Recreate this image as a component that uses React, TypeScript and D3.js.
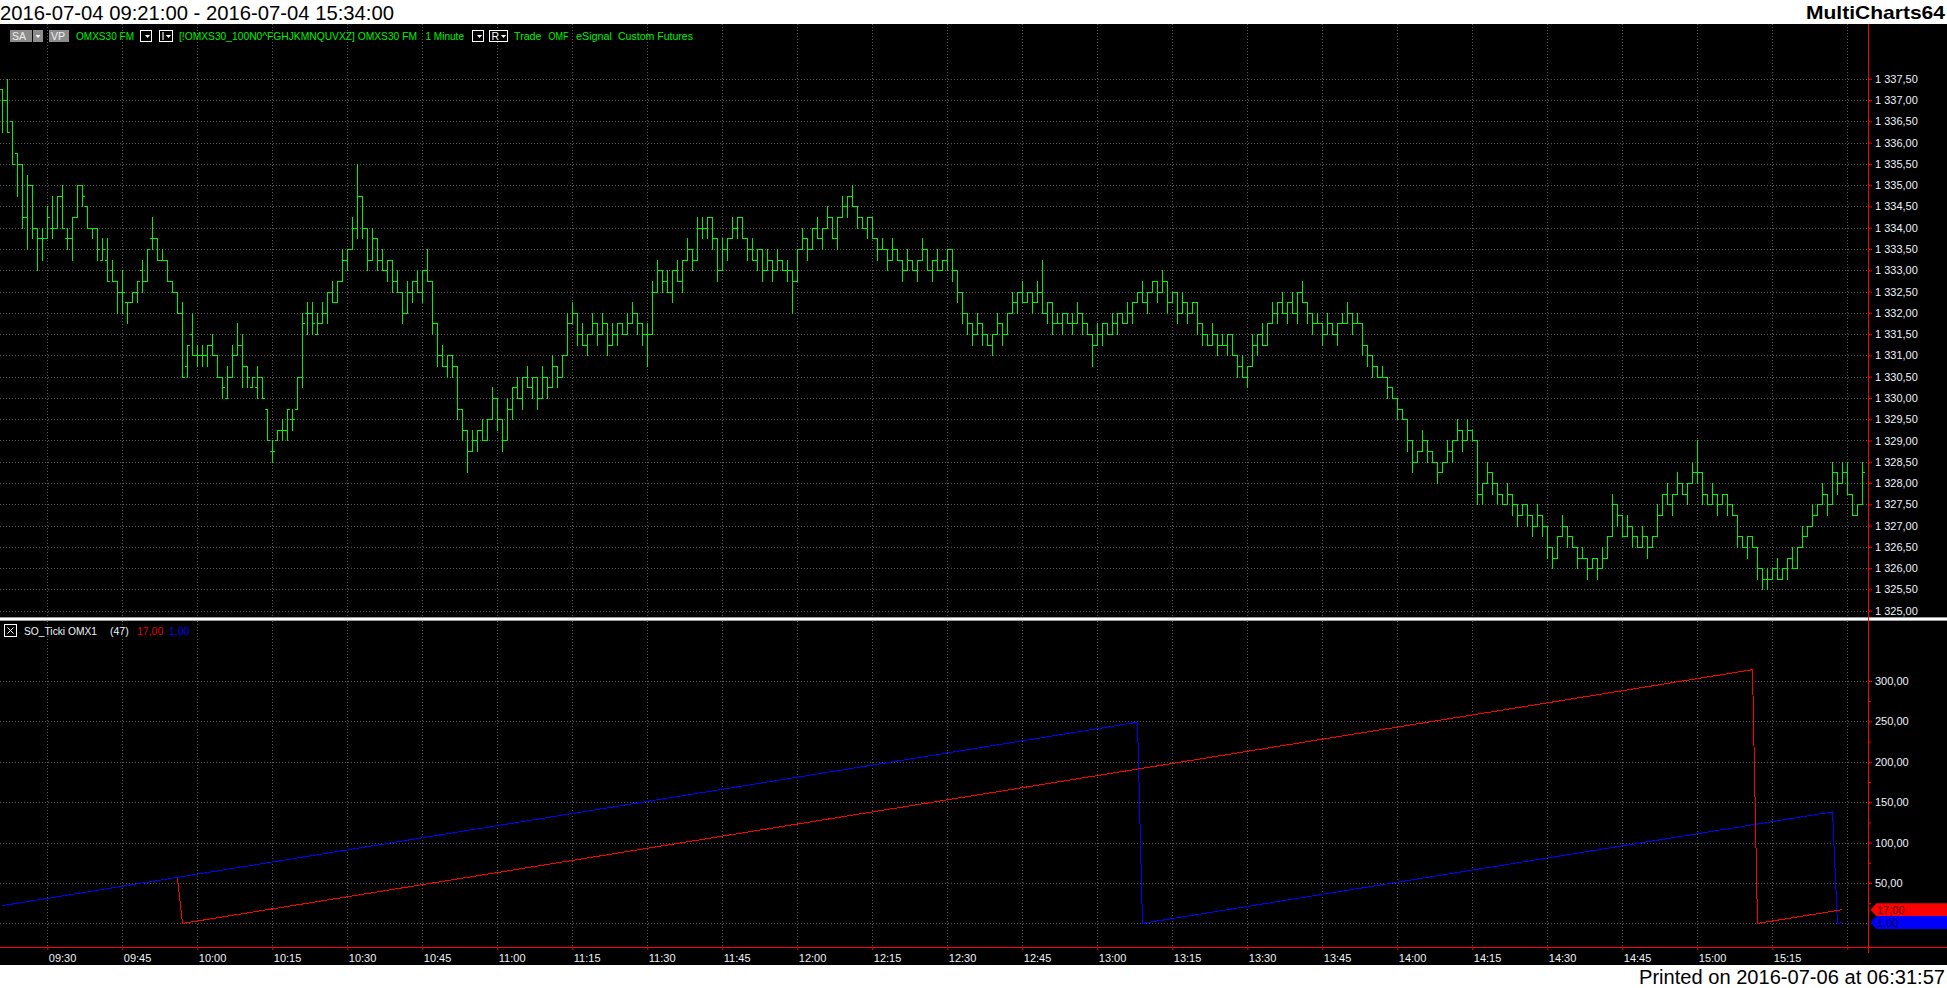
import React, { useRef, useEffect } from 'react';
import * as d3 from 'd3';

const WIDTH = 1947;
const HEIGHT = 988;

// first 1-minute bar of the session
const sessionStart = '09:21';

// OMXS30 FM, 1 minute bars
const barOpen = [
  1337.25, 1337, 1336.5, 1335.75, 1335.5, 1334.25, 1335, 1334, 1333.75, 1333.75,
  1334, 1334, 1334.75, 1333.75, 1333.75, 1334.25, 1335, 1334.5, 1334, 1334,
  1333.25, 1333.25, 1333, 1332.75, 1332.5, 1332.25, 1332.25, 1332.5, 1333, 1332.75,
  1333.75, 1333.75, 1333.25, 1333.25, 1332.75, 1332.5, 1332, 1330.75, 1331.5, 1331,
  1331, 1331, 1331.25, 1331, 1330.5, 1330, 1330.5, 1331, 1331.25, 1330.75,
  1330.25, 1330.25, 1330.5, 1329.75, 1328.75, 1329, 1329.25, 1329.25, 1329.5, 1329.75,
  1330.5, 1332, 1332, 1331.5, 1331.75, 1332, 1332.5, 1332.25, 1332.75, 1333.25,
  1333.5, 1334, 1334.75, 1334, 1333.25, 1333.75, 1333.25, 1333, 1333.25, 1332.75,
  1332.5, 1332, 1332.5, 1332.75, 1332.5, 1333, 1332.75, 1331.75, 1331, 1330.75,
  1331, 1330.75, 1329.75, 1329.25, 1328.75, 1329, 1329.25, 1329, 1329.5, 1330,
  1329.5, 1329, 1329.75, 1330.25, 1330, 1330.5, 1330.25, 1330.5, 1330, 1330.5,
  1330.25, 1330.75, 1330.5, 1331, 1331.75, 1332, 1331.5, 1331.25, 1331.5, 1331.75,
  1331.5, 1331.75, 1331.25, 1331.5, 1331.75, 1331.5, 1331.75, 1332, 1331.75, 1331.5,
  1331.5, 1332.5, 1333, 1332.75, 1332.5, 1333, 1332.75, 1333.25, 1333.5, 1333.25,
  1334, 1334, 1334.25, 1333.75, 1333, 1333.5, 1333.75, 1334, 1334.25, 1333.75,
  1333.5, 1333.25, 1333.5, 1333, 1333.25, 1333, 1333.25, 1333, 1333, 1332.75,
  1333.5, 1333.75, 1333.5, 1334, 1333.75, 1334, 1334.25, 1333.75, 1334.25, 1334.5,
  1334.75, 1334.5, 1334.25, 1334, 1334.25, 1333.75, 1333.5, 1333.5, 1333.25, 1333.5,
  1333.25, 1333, 1333.25, 1333, 1333.25, 1333.5, 1333, 1333.25, 1333, 1333.25,
  1333.5, 1333, 1332.5, 1332, 1331.75, 1331.5, 1331.75, 1331.5, 1331.25, 1331.5,
  1331.75, 1331.5, 1332, 1332.25, 1332.5, 1332.25, 1332.5, 1332.25, 1332.5, 1332,
  1332.25, 1331.75, 1331.75, 1332, 1331.75, 1331.75, 1332, 1331.75, 1331.5, 1331.25,
  1331.5, 1331.75, 1331.5, 1331.75, 1332, 1331.75, 1332, 1332.25, 1332.5, 1332.25,
  1332.5, 1332.75, 1332.5, 1332.75, 1332.25, 1332.5, 1332, 1332.25, 1332, 1332.25,
  1331.75, 1331.5, 1331.25, 1331.5, 1331.25, 1331.25, 1331.5, 1331, 1330.75, 1330.5,
  1330.75, 1331.25, 1331.5, 1331.25, 1331.75, 1332, 1332.25, 1332, 1332.25, 1332,
  1332.5, 1332.25, 1332, 1331.75, 1331.75, 1331.5, 1331.75, 1331.5, 1331.75, 1331.75,
  1332, 1331.75, 1331.75, 1331.25, 1331, 1330.75, 1330.5, 1330.5, 1330.25, 1330,
  1329.75, 1329.5, 1329, 1328.5, 1328.75, 1329, 1328.75, 1328.5, 1328.25, 1328.5,
  1328.75, 1329, 1329.25, 1329, 1329.25, 1329, 1327.75, 1328, 1328.25, 1328,
  1327.75, 1327.5, 1327.75, 1327.5, 1327.25, 1327.5, 1327.25, 1327, 1327.25, 1327,
  1326.5, 1326.25, 1326.75, 1327, 1326.75, 1326.5, 1326.25, 1326.25, 1326, 1326.25,
  1326, 1326.25, 1326.75, 1327.5, 1327.25, 1326.75, 1327, 1326.75, 1326.5, 1326.75,
  1326.5, 1326.75, 1327.25, 1327.75, 1327.5, 1327.75, 1328, 1327.75, 1328, 1328.25,
  1328.25, 1327.75, 1327.5, 1327.75, 1327.5, 1327.75, 1327.5, 1327.25, 1326.75, 1326.5,
  1326.75, 1326.5, 1326, 1325.75, 1325.75, 1326, 1325.75, 1326, 1326.25, 1326,
  1326.5, 1326.75, 1327, 1327.25, 1327.5, 1327.75, 1327.5, 1328.25, 1328, 1328.25,
  1327.75, 1327.25, 1327.5,
];
const barHigh = [
  1337.25, 1337.5, 1336.5, 1335.75, 1335.5, 1335.25, 1335, 1334, 1334, 1334.5,
  1334.75, 1334.75, 1335, 1334, 1334.25, 1335, 1335, 1334.5, 1334, 1334,
  1333.75, 1333.75, 1333.25, 1332.75, 1333, 1332.25, 1332.5, 1332.75, 1333.25, 1333.5,
  1334.25, 1333.75, 1333.5, 1333.25, 1332.75, 1332.5, 1332.25, 1331.25, 1332, 1331.25,
  1331.25, 1331.25, 1331.5, 1331, 1330.5, 1330.75, 1331.25, 1331.75, 1331.5, 1330.75,
  1330.5, 1330.75, 1330.5, 1329.75, 1329, 1329.25, 1329.5, 1329.75, 1329.75, 1330.5,
  1332, 1332.25, 1332.25, 1332, 1332.25, 1332.5, 1332.75, 1332.75, 1333.5, 1333.5,
  1334.25, 1335.5, 1334.75, 1334, 1334, 1333.75, 1333.5, 1333.25, 1333.25, 1333,
  1332.5, 1332.75, 1332.75, 1333, 1333, 1333.5, 1332.75, 1331.75, 1331.25, 1331,
  1331, 1330.75, 1329.75, 1329.25, 1329.25, 1329.25, 1329.5, 1329.5, 1330.25, 1330,
  1329.5, 1330, 1330.25, 1330.5, 1330.5, 1330.75, 1330.5, 1330.5, 1330.75, 1330.5,
  1331, 1330.75, 1331, 1332, 1332.25, 1332, 1331.75, 1331.5, 1332, 1331.75,
  1332, 1331.75, 1331.75, 1331.75, 1331.75, 1332, 1332.25, 1332, 1331.75, 1331.75,
  1332.75, 1333.25, 1333, 1333, 1333, 1333.25, 1333.25, 1333.75, 1333.5, 1334.25,
  1334.25, 1334.25, 1334.25, 1333.75, 1333.75, 1333.75, 1334.25, 1334.25, 1334.25, 1333.75,
  1333.75, 1333.5, 1333.5, 1333.5, 1333.25, 1333.5, 1333.25, 1333.25, 1333, 1333.5,
  1334, 1333.75, 1334, 1334.25, 1334, 1334.5, 1334.25, 1334.25, 1334.75, 1334.75,
  1335, 1334.5, 1334.25, 1334.25, 1334.25, 1333.75, 1333.75, 1333.5, 1333.75, 1333.5,
  1333.25, 1333.5, 1333.25, 1333.25, 1333.75, 1333.5, 1333.25, 1333.5, 1333.25, 1333.5,
  1333.5, 1333, 1332.5, 1332, 1331.75, 1332, 1331.75, 1331.5, 1331.5, 1332,
  1331.75, 1332, 1332.5, 1332.5, 1332.75, 1332.5, 1332.5, 1332.75, 1333.25, 1332.25,
  1332.25, 1332, 1332, 1332, 1332, 1332.25, 1332, 1331.75, 1331.5, 1331.75,
  1331.75, 1331.75, 1332, 1332, 1332, 1332.25, 1332.25, 1332.5, 1332.75, 1332.5,
  1332.75, 1332.75, 1333, 1332.75, 1332.5, 1332.5, 1332.5, 1332.25, 1332.25, 1332.25,
  1331.75, 1331.5, 1331.75, 1331.5, 1331.5, 1331.5, 1331.5, 1331, 1331, 1330.75,
  1331.5, 1331.5, 1331.75, 1331.75, 1332.25, 1332.25, 1332.5, 1332.25, 1332.5, 1332.5,
  1332.75, 1332.25, 1332, 1332, 1331.75, 1332, 1331.75, 1331.75, 1332, 1332.25,
  1332, 1332, 1331.75, 1331.25, 1331, 1330.75, 1330.75, 1330.5, 1330.25, 1330,
  1329.75, 1329.5, 1329, 1328.75, 1329.25, 1329, 1328.75, 1328.5, 1328.5, 1329,
  1329, 1329.5, 1329.25, 1329.5, 1329.25, 1329, 1328, 1328.5, 1328.25, 1328,
  1327.75, 1328, 1327.75, 1327.5, 1327.5, 1327.5, 1327.25, 1327.5, 1327.25, 1327,
  1326.5, 1326.75, 1327.25, 1327, 1326.75, 1326.5, 1326.5, 1326.25, 1326.25, 1326.25,
  1326.5, 1326.75, 1327.75, 1327.5, 1327.25, 1327.25, 1327, 1326.75, 1327, 1326.75,
  1326.75, 1327.5, 1327.75, 1328, 1327.75, 1328.25, 1328, 1328, 1328.5, 1329,
  1328.25, 1327.75, 1328, 1327.75, 1327.75, 1327.75, 1327.5, 1327.25, 1326.75, 1326.75,
  1326.75, 1326.5, 1326, 1326, 1326, 1326.25, 1326, 1326.25, 1326.5, 1326.5,
  1327, 1327, 1327.5, 1327.5, 1328, 1327.75, 1328.5, 1328.25, 1328.5, 1328.5,
  1327.75, 1327.5, 1328.5,
];
const barLow = [
  1336.25, 1336.25, 1335.5, 1334.75, 1334, 1333.5, 1333.75, 1333, 1333.25, 1333.75,
  1333.75, 1334, 1334, 1333.5, 1333.25, 1334.25, 1334.5, 1334, 1333.75, 1333.25,
  1333.25, 1332.75, 1332.75, 1332, 1332, 1331.75, 1332.25, 1332.25, 1332.5, 1332.75,
  1333.5, 1333.25, 1333.25, 1332.75, 1332.5, 1332, 1330.5, 1330.5, 1331, 1330.75,
  1330.75, 1330.75, 1331, 1330.5, 1330, 1330, 1330.5, 1331, 1330.25, 1330.25,
  1330.25, 1330, 1330, 1329, 1328.5, 1329, 1329, 1329, 1329.25, 1329.75,
  1330.25, 1331.5, 1331.5, 1331.5, 1331.75, 1331.75, 1332.25, 1332.25, 1332.75, 1333,
  1333.5, 1333.75, 1333.75, 1333, 1333.25, 1333, 1333, 1332.75, 1332.5, 1332.5,
  1331.75, 1332, 1332.25, 1332.5, 1332.25, 1332.75, 1331.5, 1330.75, 1330.75, 1330.5,
  1330.5, 1329.5, 1329, 1328.25, 1328.75, 1328.75, 1329, 1329, 1329.5, 1329.25,
  1328.75, 1329, 1329.5, 1330, 1329.75, 1330.25, 1330, 1329.75, 1330, 1330,
  1330.25, 1330.25, 1330.5, 1331, 1331.75, 1331.25, 1331.25, 1331, 1331.5, 1331.25,
  1331.5, 1331, 1331.25, 1331.25, 1331.5, 1331.5, 1331.75, 1331.5, 1331.25, 1330.75,
  1331.5, 1332.5, 1332.5, 1332.5, 1332.25, 1332.75, 1332.5, 1333.25, 1333, 1333.25,
  1333.75, 1333.75, 1333.5, 1332.75, 1333, 1333.25, 1333.75, 1333.75, 1333.75, 1333.25,
  1333.25, 1333, 1332.75, 1333, 1332.75, 1333, 1333, 1332.75, 1332, 1332.75,
  1333.5, 1333.25, 1333.5, 1333.75, 1333.5, 1334, 1333.75, 1333.5, 1334.25, 1334.25,
  1334.5, 1334, 1334, 1333.75, 1333.75, 1333.25, 1333.5, 1333, 1333.25, 1333.25,
  1332.75, 1333, 1333, 1332.75, 1333.25, 1333, 1332.75, 1333, 1333, 1333,
  1332.75, 1332.25, 1331.75, 1331.5, 1331.25, 1331.5, 1331.25, 1331.25, 1331, 1331.5,
  1331.25, 1331.5, 1332, 1332, 1332.25, 1332.25, 1332, 1332.25, 1332, 1331.75,
  1331.5, 1331.75, 1331.5, 1331.75, 1331.5, 1331.75, 1331.5, 1331.5, 1330.75, 1331.25,
  1331.25, 1331.5, 1331.5, 1331.5, 1331.75, 1331.75, 1331.75, 1332.25, 1332.25, 1332,
  1332.5, 1332.25, 1332.5, 1332, 1332.25, 1331.75, 1332, 1331.75, 1332, 1331.5,
  1331.25, 1331.25, 1331.25, 1331, 1331.25, 1331, 1331, 1330.5, 1330.5, 1330.25,
  1330.75, 1331, 1331.25, 1331.25, 1331.75, 1331.75, 1332, 1331.75, 1332, 1331.75,
  1332.25, 1331.75, 1331.5, 1331.75, 1331.25, 1331.5, 1331.5, 1331.25, 1331.75, 1331.75,
  1331.5, 1331.75, 1331, 1330.75, 1330.5, 1330.5, 1330.5, 1330, 1330, 1329.5,
  1329.5, 1328.75, 1328.25, 1328.5, 1328.75, 1328.5, 1328.5, 1328, 1328.25, 1328.5,
  1328.5, 1329, 1328.75, 1329, 1329, 1327.5, 1327.5, 1328, 1327.75, 1327.5,
  1327.5, 1327.5, 1327.25, 1327, 1327.25, 1327, 1326.75, 1327, 1326.75, 1326.25,
  1326, 1326.25, 1326.75, 1326.5, 1326.5, 1326, 1326.25, 1325.75, 1326, 1325.75,
  1326, 1326.25, 1326.75, 1327, 1326.75, 1326.75, 1326.5, 1326.5, 1326.5, 1326.25,
  1326.5, 1326.75, 1327.25, 1327.5, 1327.25, 1327.75, 1327.75, 1327.5, 1328, 1328,
  1327.5, 1327.5, 1327.5, 1327.25, 1327.5, 1327.25, 1327.25, 1326.5, 1326.5, 1326.25,
  1326.5, 1325.75, 1325.5, 1325.5, 1325.75, 1325.75, 1325.75, 1325.75, 1326, 1326,
  1326.5, 1326.75, 1327, 1327.25, 1327.5, 1327.25, 1327.5, 1327.75, 1328, 1327.75,
  1327.25, 1327.25, 1327.5,
];
const barClose = [
  1337, 1336.25, 1335.5, 1335.5, 1334.25, 1335, 1334, 1333.75, 1333.75, 1334.25,
  1334, 1334.75, 1334, 1333.75, 1334.25, 1335, 1334.75, 1334, 1334, 1333.5,
  1333.5, 1332.75, 1332.75, 1332.5, 1332.5, 1332.25, 1332.5, 1332.75, 1332.75, 1333.5,
  1333.75, 1333.25, 1333.25, 1332.75, 1332.5, 1332, 1330.5, 1331.25, 1331, 1331,
  1331, 1331.25, 1331, 1330.5, 1330.25, 1330.5, 1331, 1331.25, 1330.75, 1330.5,
  1330.5, 1330.5, 1330, 1329, 1328.75, 1329.25, 1329.25, 1329.75, 1329.5, 1330.5,
  1331.75, 1332, 1331.75, 1331.75, 1332, 1332.5, 1332.25, 1332.75, 1333.25, 1333.5,
  1334, 1334.75, 1334, 1333.25, 1333.75, 1333.25, 1333, 1333.25, 1332.75, 1332.5,
  1332, 1332.5, 1332.75, 1332.5, 1333, 1332.75, 1331.75, 1331, 1330.75, 1331,
  1330.75, 1329.75, 1329.25, 1328.75, 1329, 1329.25, 1329, 1329.5, 1330, 1329.5,
  1329, 1329.75, 1330.25, 1330, 1330.5, 1330.25, 1330.5, 1330, 1330.5, 1330.25,
  1330.75, 1330.5, 1331, 1331.75, 1332, 1331.5, 1331.25, 1331.5, 1331.75, 1331.5,
  1331.75, 1331.25, 1331.5, 1331.75, 1331.5, 1331.75, 1332, 1331.75, 1331.5, 1331.5,
  1332.5, 1333, 1332.75, 1332.5, 1333, 1332.75, 1333.25, 1333.5, 1333.25, 1334,
  1334, 1334.25, 1333.75, 1333, 1333.5, 1333.75, 1334, 1334.25, 1333.75, 1333.5,
  1333.25, 1333.5, 1333, 1333.25, 1333, 1333.25, 1333, 1333, 1332.75, 1333.5,
  1333.75, 1333.5, 1334, 1333.75, 1334, 1334.25, 1333.75, 1334.25, 1334.5, 1334.75,
  1334.5, 1334.25, 1334, 1334.25, 1333.75, 1333.5, 1333.5, 1333.25, 1333.5, 1333.25,
  1333, 1333.25, 1333, 1333.25, 1333.5, 1333, 1333.25, 1333, 1333.25, 1333.5,
  1333, 1332.5, 1332, 1331.75, 1331.5, 1331.75, 1331.5, 1331.25, 1331.5, 1331.75,
  1331.5, 1332, 1332.25, 1332.5, 1332.25, 1332.5, 1332.25, 1332.5, 1332, 1332.25,
  1331.75, 1331.75, 1332, 1331.75, 1331.75, 1332, 1331.75, 1331.5, 1331.25, 1331.5,
  1331.75, 1331.5, 1331.75, 1332, 1331.75, 1332, 1332.25, 1332.5, 1332.25, 1332.5,
  1332.75, 1332.5, 1332.75, 1332.25, 1332.5, 1332, 1332.25, 1332, 1332.25, 1331.75,
  1331.5, 1331.25, 1331.5, 1331.25, 1331.25, 1331.5, 1331, 1330.75, 1330.5, 1330.75,
  1331.25, 1331.5, 1331.25, 1331.75, 1332, 1332.25, 1332, 1332.25, 1332, 1332.5,
  1332.25, 1332, 1331.75, 1331.75, 1331.5, 1331.75, 1331.5, 1331.75, 1331.75, 1332,
  1331.75, 1331.75, 1331.25, 1331, 1330.75, 1330.5, 1330.5, 1330.25, 1330, 1329.75,
  1329.5, 1329, 1328.5, 1328.75, 1329, 1328.75, 1328.5, 1328.25, 1328.5, 1328.75,
  1329, 1329.25, 1329, 1329.25, 1329, 1327.75, 1328, 1328.25, 1328, 1327.75,
  1327.5, 1327.75, 1327.5, 1327.25, 1327.5, 1327.25, 1327, 1327.25, 1327, 1326.5,
  1326.25, 1326.75, 1327, 1326.75, 1326.5, 1326.25, 1326.25, 1326, 1326.25, 1326,
  1326.25, 1326.75, 1327.5, 1327.25, 1326.75, 1327, 1326.75, 1326.5, 1326.75, 1326.5,
  1326.75, 1327.25, 1327.75, 1327.5, 1327.75, 1328, 1327.75, 1328, 1328.25, 1328.25,
  1327.75, 1327.5, 1327.75, 1327.5, 1327.75, 1327.5, 1327.25, 1326.75, 1326.5, 1326.75,
  1326.5, 1326, 1325.75, 1325.75, 1326, 1325.75, 1326, 1326.25, 1326, 1326.5,
  1326.75, 1327, 1327.25, 1327.5, 1327.75, 1327.5, 1328.25, 1328, 1328.25, 1327.75,
  1327.25, 1327.5, 1328.25,
];

const priceTicks = [
  1325, 1325.5, 1326, 1326.5, 1327, 1327.5, 1328, 1328.5, 1329, 1329.5, 1330, 1330.5, 1331,
  1331.5, 1332, 1332.5, 1333, 1333.5, 1334, 1334.5, 1335, 1335.5, 1336, 1336.5, 1337, 1337.5,
];
const timeTicks = [
  '09:30', '09:45', '10:00', '10:15', '10:30', '10:45', '11:00', '11:15', '11:30', '11:45',
  '12:00', '12:15', '12:30', '12:45', '13:00', '13:15', '13:30', '13:45', '14:00', '14:15',
  '14:30', '14:45', '15:00', '15:15', '15:30',
];
const indicatorTicks = [50, 100, 150, 200, 250, 300];
const indicatorMinorTicks = [25, 75, 125, 175, 225, 275];

// SO_Ticki OMX1 (47): bar index / value at every corner of the two plots
const redBars = [35, 36, 350, 351, 368];
const redValues = [56, 0, 314, 0, 17];
const blueBars = [0, 227, 228, 366, 367, 368];
const blueValues = [22, 249, 0, 138, 0, 1];

const FONT = 'Liberation Sans, Arial, sans-serif';
const GREEN = '#00f000';

const App: React.FC = () => {
  const svgRef = useRef<SVGSVGElement>(null);

  useEffect(() => {
    if (!svgRef.current) return;
    const svg = d3.select(svgRef.current);
    svg.selectAll('*').remove();

    const axisX = 1868.5;
    const parseTime = d3.timeParse('%H:%M');
    const t0 = parseTime(sessionStart) as Date;
    const barTime = (i: number) => d3.timeMinute.offset(t0, i);

    const x = d3.scaleTime()
      .domain([t0, barTime(barClose.length - 1)])
      .range([2.3, 1862.3]);
    const yPrice = d3.scaleLinear().domain([1325, 1337.5]).range([610.7, 78.8]);
    const yInd = d3.scaleLinear().domain([0, 300]).range([923.4, 681]);

    const px = (i: number) => Math.round(x(barTime(i))) + 0.5;
    const snap = (v: number) => Math.round(v) + 0.5;

    const locale = d3.formatLocale({ decimal: ',', thousands: ' ', grouping: [3], currency: ['', ''] });
    const fmt = locale.format(',.2f');

    // page + black chart window
    svg.append('rect').attr('width', WIDTH).attr('height', HEIGHT).attr('fill', '#fff');
    svg.append('rect').attr('y', 24).attr('width', WIDTH).attr('height', 941).attr('fill', '#000');

    svg.append('text')
      .attr('x', 0).attr('y', 20)
      .attr('font-family', FONT).attr('font-size', 21)
      .attr('textLength', 394).attr('lengthAdjust', 'spacingAndGlyphs')
      .text('2016-07-04 09:21:00 - 2016-07-04 15:34:00');
    svg.append('text')
      .attr('x', 1945).attr('y', 19).attr('text-anchor', 'end')
      .attr('font-family', FONT).attr('font-size', 19).attr('font-weight', 'bold')
      .attr('textLength', 139).attr('lengthAdjust', 'spacingAndGlyphs')
      .text('MultiCharts64');
    svg.append('text')
      .attr('x', 1945).attr('y', 984).attr('text-anchor', 'end')
      .attr('font-family', FONT).attr('font-size', 20)
      .attr('textLength', 306).attr('lengthAdjust', 'spacingAndGlyphs')
      .text('Printed on 2016-07-06 at 06:31:57');

    // dotted grid
    const grid = svg.append('g')
      .attr('stroke', '#5a5a5a').attr('stroke-dasharray', '1,2')
      .attr('shape-rendering', 'crispEdges');
    grid.selectAll('line.hp').data(priceTicks).join('line').attr('class', 'hp')
      .attr('x1', 0).attr('x2', axisX)
      .attr('y1', d => snap(yPrice(d))).attr('y2', d => snap(yPrice(d)));
    grid.selectAll('line.hi').data([0, ...indicatorTicks]).join('line').attr('class', 'hi')
      .attr('x1', 0).attr('x2', axisX)
      .attr('y1', d => snap(yInd(d))).attr('y2', d => snap(yInd(d)));
    const tickDates = timeTicks.map(t => parseTime(t) as Date);
    grid.selectAll('line.v').data(tickDates).join('line').attr('class', 'v')
      .attr('x1', d => snap(x(d))).attr('x2', d => snap(x(d)))
      .attr('y1', 24).attr('y2', 947);

    // panel separator
    svg.append('rect').attr('x', 0).attr('y', 617).attr('width', WIDTH).attr('height', 4).attr('fill', '#9a9a9a');
    svg.append('rect').attr('x', 0).attr('y', 618).attr('width', WIDTH).attr('height', 2).attr('fill', '#ffffff');

    // price bars (open tick left, close tick right)
    const p = d3.path();
    barClose.forEach((c, i) => {
      const bx = px(i);
      const hi = Math.max(barHigh[i], barOpen[i], c);
      const lo = Math.min(barLow[i], barOpen[i], c);
      p.moveTo(bx, Math.round(yPrice(hi)));
      p.lineTo(bx, Math.round(yPrice(lo)) + 1);
      const yo = snap(yPrice(barOpen[i]));
      p.moveTo(bx - 2.5, yo);
      p.lineTo(bx, yo);
      const yc = snap(yPrice(c));
      p.moveTo(bx, yc);
      p.lineTo(bx + 2.5, yc);
    });
    svg.append('path')
      .attr('d', p.toString())
      .attr('fill', 'none').attr('stroke', GREEN).attr('stroke-width', 1)
      .attr('shape-rendering', 'crispEdges');

    // indicator plots
    const plot = (bars: number[], values: number[], color: string) => {
      const line = d3.line<number>()
        .x(k => px(bars[k]))
        .y(k => yInd(values[k]));
      svg.append('path')
        .attr('d', line(d3.range(bars.length)))
        .attr('fill', 'none').attr('stroke', color).attr('stroke-width', 1)
        .attr('shape-rendering', 'crispEdges');
    };
    plot(blueBars, blueValues, '#0000ff');
    plot(redBars, redValues, '#ff0000');

    // right axis line
    svg.append('line')
      .attr('x1', axisX).attr('x2', axisX).attr('y1', 24).attr('y2', 953)
      .attr('stroke', '#ff0000').attr('shape-rendering', 'crispEdges');

    const styleAxis = (g: d3.Selection<SVGGElement, unknown, null, undefined>) => {
      g.select('.domain').remove();
      g.attr('font-family', FONT).attr('font-size', 11).attr('color', '#eef2fa');
      g.selectAll('.tick line').attr('stroke', '#ff0000');
    };

    const priceAxis = svg.append('g')
      .attr('transform', `translate(${axisX - 0.5},0)`)
      .call(d3.axisRight(yPrice).tickValues(priceTicks).tickFormat(d => fmt(d as number)).tickSize(4).tickPadding(3));
    styleAxis(priceAxis);

    const indAxis = svg.append('g')
      .attr('transform', `translate(${axisX - 0.5},0)`)
      .call(d3.axisRight(yInd).tickValues(indicatorTicks).tickFormat(d => fmt(d as number)).tickSize(4).tickPadding(3));
    styleAxis(indAxis);
    const indMinor = svg.append('g')
      .attr('transform', `translate(${axisX - 0.5},0)`)
      .call(d3.axisRight(yInd).tickValues(indicatorMinorTicks).tickFormat(() => '').tickSize(3));
    styleAxis(indMinor);

    // time axis
    svg.append('line')
      .attr('x1', 0).attr('x2', WIDTH).attr('y1', 947.5).attr('y2', 947.5)
      .attr('stroke', '#ff0000').attr('shape-rendering', 'crispEdges');
    const timeAxis = svg.append('g')
      .attr('transform', 'translate(0,947)')
      .call(d3.axisBottom(x).tickValues(tickDates).tickFormat(d => d3.timeFormat('%H:%M')(d as Date)).tickSize(3).tickPadding(4));
    styleAxis(timeAxis);
    timeAxis.selectAll<SVGTextElement, Date>('text')
      .attr('text-anchor', 'start').attr('x', 1)
      .filter(d => x(d) > 1830).remove();

    // last value tags
    const tag = (v: number, fill: string, textFill: string, label: string) => {
      const cy = yInd(v);
      svg.append('path')
        .attr('d', `M${axisX + 2},${cy} L${axisX + 8},${cy - 6.5} H${WIDTH} V${cy + 6.5} H${axisX + 8} Z`)
        .attr('fill', fill);
      svg.append('text')
        .attr('x', 1877).attr('y', cy + 4)
        .attr('font-family', FONT).attr('font-size', 11).attr('fill', textFill)
        .text(label);
    };
    tag(17, '#ff0000', '#5a0000', fmt(17));
    tag(1, '#0000ff', '#00004a', fmt(1));

    // lower panel legend
    const lg = svg.append('g').attr('font-family', FONT).attr('font-size', 10.5);
    lg.append('rect').attr('x', 4.5).attr('y', 624.5).attr('width', 12).attr('height', 12)
      .attr('fill', 'none').attr('stroke', '#fff');
    lg.append('path').attr('d', 'M7.5,627.5 L13.5,633.5 M13.5,627.5 L7.5,633.5').attr('stroke', '#fff');
    lg.append('text').attr('x', 24).attr('y', 635).attr('fill', '#eef2fa')
      .attr('textLength', 73).attr('lengthAdjust', 'spacingAndGlyphs').text('SO_Ticki OMX1');
    lg.append('text').attr('x', 110).attr('y', 635).attr('fill', '#eef2fa').text('(47)');
    lg.append('text').attr('x', 137).attr('y', 635).attr('fill', '#e00000').text(fmt(17));
    lg.append('text').attr('x', 169).attr('y', 635).attr('fill', '#0000ff').text(fmt(1));

    // top legend row
    const top = svg.append('g').attr('font-family', FONT).attr('font-size', 10.5);
    const grayBox = (bx: number, w: number, label: string) => {
      top.append('rect').attr('x', bx).attr('y', 30).attr('width', w).attr('height', 12).attr('fill', '#8c8c8c');
      if (label) top.append('text').attr('x', bx + 2).attr('y', 40).attr('fill', '#f0f0f0').text(label);
    };
    const arrow = (cx: number) => {
      top.append('path').attr('d', `M${cx - 2.5},35 L${cx + 2.5},35 L${cx},38 Z`).attr('fill', '#fff');
    };
    const darkBox = (bx: number, w: number, label: string) => {
      top.append('rect').attr('x', bx + 0.5).attr('y', 30.5).attr('width', w).attr('height', 11)
        .attr('fill', '#000').attr('stroke', '#fff');
      if (label) top.append('text').attr('x', bx + 2.5).attr('y', 40).attr('fill', '#fff').text(label);
      arrow(bx + w - 3.5);
    };
    grayBox(10, 22, 'SA');
    grayBox(33, 10, '');
    arrow(38);
    grayBox(49, 20, 'VP');
    darkBox(140, 11, '');
    darkBox(159, 13, 'I');
    darkBox(472, 11, '');
    darkBox(489, 18, 'R');

    const greenText = (tx: number, w: number, s: string) => {
      top.append('text').attr('x', tx).attr('y', 40).attr('fill', GREEN)
        .attr('textLength', w).attr('lengthAdjust', 'spacingAndGlyphs').text(s);
    };
    greenText(76, 58, 'OMXS30 FM');
    greenText(179, 238, '[!OMXS30_100N0^FGHJKMNQUVXZ] OMXS30 FM');
    greenText(425.5, 38.5, '1 Minute');
    greenText(514, 27.5, 'Trade');
    greenText(548.5, 20, 'OMF');
    greenText(576, 36, 'eSignal');
    greenText(618, 75, 'Custom Futures');
  }, []);

  return (
    <svg
      ref={svgRef}
      width={WIDTH}
      height={HEIGHT}
      style={{ position: 'absolute', left: 0, top: 0, display: 'block' }}
    />
  );
};

export default App;
